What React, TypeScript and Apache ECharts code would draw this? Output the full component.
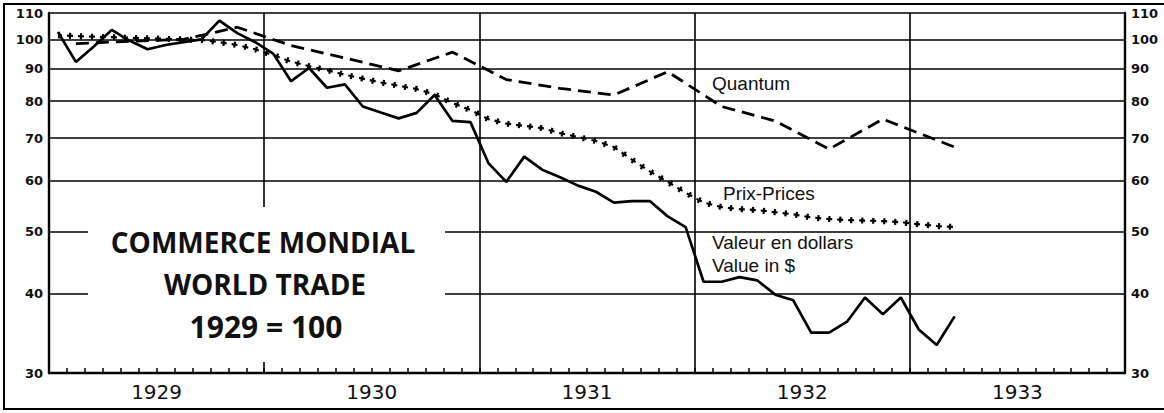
import React, { useEffect, useRef } from 'react';
import * as echarts from 'echarts';

// ---- data ----
const years = ['1929', '1930', '1931', '1932', '1933'];
const monthNums = ['01', '02', '03', '04', '05', '06', '07', '08', '09', '10', '11', '12'];
const yTicks = [30, 40, 50, 60, 70, 80, 90, 100, 110];

// Valeur en dollars / Value in $ (monthly, Jan 1929 – Mar 1933)
const valueSeries = [
  102.7, 92.2, 97.5, 103.5, 99.5, 96.5, 98, 99, 100, 107, 102.3, 99,
  95, 86, 90.2, 84, 85, 78.5, 76.8, 75.2, 76.7, 81.8, 74.5, 74.2,
  64, 59.8, 65.5, 62.5, 60.8, 59, 57.7, 55.5, 55.8, 55.8, 52.8, 50.8,
  41.7, 41.7, 42.4, 41.9, 39.8, 39.0, 34.7, 34.7, 36.1, 39.4, 37.1, 39.4,
  35.1, 33.2, 36.8,
];

// Prix - Prices (monthly)
const pricesSeries = [
  101.5, 101.2, 101, 100.8, 100.6, 100.4, 100.2, 100, 99.8, 99, 98, 96.5,
  94.5, 92.3, 90.8, 89.5, 88, 86.8, 85.6, 84.6, 83.6, 82, 79.5, 77.5,
  75, 73.8, 73.2, 72.6, 71.3, 70.3, 69.3, 67.8, 64.8, 62.1, 59.8, 57.5,
  55.5, 54.6, 54.2, 54, 53.6, 53.2, 52.6, 52.3, 52.1, 52, 51.9, 51.7,
  51.3, 51, 50.8,
];

// Quantum (quarterly points)
const quantumSeries = [
  null, 98.5, null, null, 99.3, null, null, 100, null, null, 104.5, null,
  null, 97.8, null, null, 93.5, null, null, 89.3, null, null, 95.5, null,
  null, 86.5, null, null, 83.8, null, null, 81.8, null, null, 89, null,
  null, 78.5, null, null, 74.5, null, null, 67.3, null, null, 75, null,
  null, null, 67.8,
];

const FONT = 'Open Sans';
const LABEL_FONT = 'Liberation Sans';
const NUM_FONT = 'DejaVu Sans';

export default function App() {
  const ref = useRef<HTMLDivElement>(null);

  useEffect(() => {
    document.body.style.margin = '0';
    const chart = echarts.init(ref.current as HTMLDivElement, null, { renderer: 'svg' });
    const months = years.flatMap((y) => monthNums.map((m) => `${y}-${m}`));

    const yAxisFor = (pos: 'left' | 'right') => ({
      type: 'log',
      logBase: 10,
      min: 30,
      max: 110,
      position: pos,
      axisLine: { show: true, onZero: false, lineStyle: { color: '#000', width: 2.4 } },
      axisTick: { show: false, customValues: yTicks },
      axisLabel: {
        customValues: yTicks,
        color: '#111',
        fontSize: 13,
        fontWeight: 'bold',
        fontFamily: NUM_FONT,
        margin: 6,
      },
      splitLine: { show: pos === 'left', lineStyle: { color: '#000', width: 1.6 } },
    });

    const labelStyle = (text: string) => ({
      text,
      fontSize: 19,
      fontFamily: LABEL_FONT,
      fill: '#111',
      align: 'left',
      verticalAlign: 'middle',
    });

    const option: any = {
      animation: false,
      backgroundColor: '#fff',
      grid: { left: 49, right: 39, top: 13, bottom: 40, containLabel: false },
      xAxis: [
        {
          type: 'category',
          data: months,
          boundaryGap: true,
          axisLine: { show: true, lineStyle: { color: '#000', width: 2.4 } },
          axisTick: { show: true, inside: true, length: 5, interval: 0, lineStyle: { color: '#000', width: 1.5 } },
          axisLabel: { show: false },
          splitLine: {
            show: true,
            interval: (i: number) => i % 12 === 0,
            lineStyle: { color: '#000', width: 1.6 },
          },
        },
        {
          type: 'category',
          data: years,
          position: 'bottom',
          boundaryGap: true,
          axisLine: { show: false },
          axisTick: { show: false },
          axisLabel: { color: '#111', fontSize: 20, fontFamily: NUM_FONT, margin: 9 },
          splitLine: { show: false },
        },
      ],
      yAxis: [yAxisFor('left'), yAxisFor('right')],
      series: [
        {
          type: 'line',
          name: 'Valeur en dollars',
          data: valueSeries,
          symbol: 'none',
          lineStyle: { color: '#000', width: 2.7 },
          z: 5,
        },
        {
          type: 'line',
          name: 'Quantum',
          data: quantumSeries,
          connectNulls: true,
          symbol: 'none',
          lineStyle: { color: '#000', width: 2.8, type: [13, 7] },
          z: 4,
        },
        {
          type: 'line',
          name: 'Prix-Prices',
          data: pricesSeries,
          symbol: 'none',
          lineStyle: { color: '#000', width: 6, type: [2.2, 8.8] },
          z: 3,
        },
        {
          type: 'line',
          name: 'Prix-Prices ',
          data: pricesSeries,
          symbol: 'none',
          lineStyle: { color: '#000', width: 2.2, type: [6, 5], dashOffset: 1.9 },
          z: 3,
        },
      ],
      graphic: [
        {
          type: 'rect',
          z: 100,
          shape: { x: 88, y: 207, width: 357, height: 155 },
          style: { fill: '#fff' },
        },
        {
          type: 'text', z: 101, x: 263, y: 242,
          style: { text: 'COMMERCE MONDIAL', fontSize: 28, fontWeight: 'bold', fontFamily: FONT, fill: '#111', align: 'center', verticalAlign: 'middle' },
        },
        {
          type: 'text', z: 101, x: 265, y: 284,
          style: { text: 'WORLD TRADE', fontSize: 28, fontWeight: 'bold', fontFamily: FONT, fill: '#111', align: 'center', verticalAlign: 'middle' },
        },
        {
          type: 'text', z: 101, x: 266, y: 326,
          style: { text: '1929 = 100', fontSize: 30, fontWeight: 'bold', fontFamily: FONT, fill: '#111', align: 'center', verticalAlign: 'middle' },
        },
        { type: 'text', z: 101, x: 712, y: 83, style: labelStyle('Quantum') },
        { type: 'text', z: 101, x: 723, y: 193, style: labelStyle('Prix-Prices') },
        { type: 'text', z: 101, x: 712, y: 242, style: labelStyle('Valeur en dollars') },
        { type: 'text', z: 101, x: 712, y: 265, style: labelStyle('Value in $') },
        {
          type: 'rect',
          z: 102,
          shape: { x: 4, y: 4, width: 1200, height: 405 },
          style: { fill: 'none', stroke: '#000', lineWidth: 2 },
        },
      ],
    };

    chart.setOption(option);
    return () => chart.dispose();
  }, []);

  return <div ref={ref} style={{ width: 1164, height: 413 }} />;
}
